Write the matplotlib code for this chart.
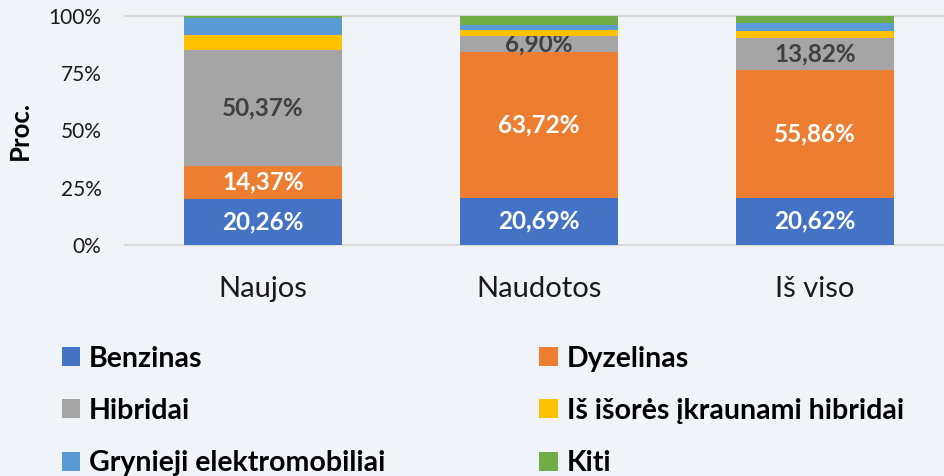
import numpy as np
import matplotlib.pyplot as plt

plt.rcParams['font.family'] = ['Lato', 'DejaVu Sans']

categories = ['Naujos', 'Naudotos', 'Iš viso']
series = ['Benzinas', 'Dyzelinas', 'Hibridai', 'Iš išorės įkraunami hibridai',
          'Grynieji elektromobiliai', 'Kiti']
benzinas = [20.26, 20.69, 20.62]
dyzelinas = [14.37, 63.72, 55.86]
hibridai = [50.37, 6.90, 13.82]
phev = [6.7, 2.5, 3.3]
elektro = [7.3, 2.3, 3.2]
kiti = [1.0, 3.89, 3.2]

values = [benzinas, dyzelinas, hibridai, phev, elektro, kiti]
colors = ['#4472C4', '#ED7D31', '#A5A5A5', '#FFC000', '#5B9BD5', '#70AD47']
label_colors = ['white', 'white', '#404040', None, None, None]
bg = '#F0F3F7'

fig = plt.figure(figsize=(9.45, 4.76), dpi=100, facecolor=bg)
ax = fig.add_axes([125 / 945, 231 / 476, 828 / 945, 229 / 476])
ax.set_facecolor(bg)

x = np.arange(len(categories))
bottom = np.zeros(len(categories))
handles = []
for name, vals, col, lcol in zip(series, values, colors, label_colors):
    bars = ax.bar(x, vals, 0.57, bottom=bottom, color=col, label=name, zorder=3)
    handles.append(bars)
    if lcol is not None:
        labels = [f'{v:.2f}%'.replace('.', ',') for v in vals]
        ax.bar_label(bars, labels=labels, label_type='center', color=lcol,
                     fontsize=17.5, fontweight='bold')
    bottom += np.array(vals)

ax.set_xlim(-0.5, 2.5)
ax.set_ylim(0, 100)
ax.set_yticks([0, 25, 50, 75, 100])
ax.set_yticklabels(['0%', '25%', '50%', '75%', '100%'])
ax.set_xticks(x)
ax.set_xticklabels(categories)
ax.tick_params(axis='y', length=0, pad=17, labelsize=15, labelcolor='#1a1a1a')
ax.tick_params(axis='x', length=0, pad=22, labelsize=21, labelcolor='#1a1a1a')
for s in ['left', 'right']:
    ax.spines[s].set_visible(False)
for s in ['top', 'bottom']:
    ax.spines[s].set_color('#D9D9D9')
    ax.spines[s].set_linewidth(1.5)
ax.set_ylabel('Proc.', fontsize=18.5, fontweight='bold', labelpad=12)

order = [0, 2, 4, 1, 3, 5]
fig.legend([handles[i] for i in order], [series[i] for i in order],
           ncol=2, loc='upper left', bbox_to_anchor=(36 / 945, 1 - 320 / 476),
           frameon=False, handlelength=0.65, handleheight=0.65, handletextpad=0.32,
           columnspacing=5.4, labelspacing=0.92, borderpad=0.4,
           prop={'size': 20.5, 'weight': 'bold'})

fig.savefig('out.png', dpi=100, facecolor=bg)
